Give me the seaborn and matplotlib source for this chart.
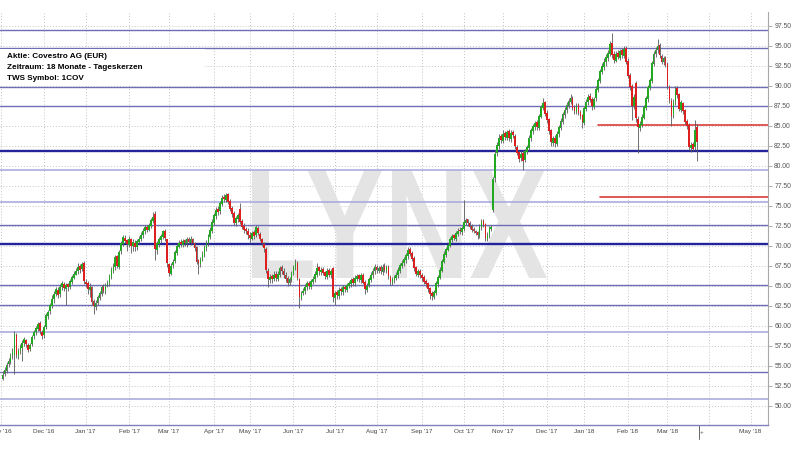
import numpy as np
import pandas as pd
import matplotlib
matplotlib.use("Agg")
import matplotlib.pyplot as plt
import seaborn as sns
from matplotlib.textpath import TextPath
from matplotlib.patches import PathPatch, Rectangle
from matplotlib.font_manager import FontProperties
from matplotlib.transforms import Affine2D, blended_transform_factory

# ---------------- data (daily candles, Covestro AG, EUR) ----------------
open_ = [
    53.4, 54.0, 54.4, 55.2, 55.5, 56.3, 56.4, 58.8, 56.2, 56.9,
    57.2, 57.8, 58.2, 57.6, 57.1, 57.7, 58.7, 59.2, 59.6, 60.4,
    59.2, 58.8, 59.9, 61.2, 61.8, 62.5, 63.3, 64.0, 64.5, 64.0,
    64.8, 65.2, 64.6, 65.2, 64.9, 65.5, 66.0, 66.4, 66.8, 67.5,
    67.1, 67.8, 65.5, 65.3, 64.5, 64.8, 63.1, 62.4, 62.9, 63.5,
    64.0, 64.9, 64.3, 65.1, 65.3, 66.1, 66.9, 67.3, 68.7, 67.4,
    69.3, 70.2, 71.0, 70.7, 70.1, 70.8, 70.0, 70.4, 69.9, 70.5,
    70.9, 71.3, 71.8, 72.4, 72.0, 72.5, 73.1, 74.0, 69.5, 70.2,
    70.7, 71.1, 71.9, 70.8, 67.7, 66.5, 67.6, 68.1, 69.1, 69.9,
    70.5, 70.1, 70.7, 70.2, 70.9, 70.4, 70.8, 70.3, 69.8, 68.2,
    67.7, 68.4, 68.9, 69.7, 70.3, 71.1, 71.9, 72.9, 73.7, 74.6,
    74.3, 75.2, 76.1, 75.7, 76.4, 75.6, 74.7, 74.1, 72.8, 73.3,
    74.6, 73.1, 72.5, 72.1, 71.9, 71.4, 70.9, 71.7, 71.3, 72.2,
    71.5, 70.8, 70.2, 69.6, 66.9, 65.7, 66.2, 65.9, 66.5, 65.9,
    66.4, 67.3, 66.9, 66.4, 66.0, 65.3, 65.7, 66.5, 67.2, 67.8,
    65.9, 63.5, 64.1, 64.3, 64.8, 65.4, 64.9, 65.5, 65.8, 66.4,
    67.3, 66.7, 67.1, 66.7, 66.1, 67.0, 66.3, 67.2, 63.5, 64.2,
    63.7, 64.6, 64.2, 64.9, 64.5, 65.0, 65.2, 65.8, 65.3, 65.9,
    66.3, 65.7, 66.4, 65.5, 64.5, 65.1, 65.7, 66.3, 66.8, 67.4,
    66.9, 67.3, 66.7, 67.5, 66.9, 67.4, 66.1, 65.4, 65.7, 66.0,
    66.3, 66.9, 67.5, 67.8, 68.2, 68.7, 69.6, 69.1, 68.5, 67.3,
    66.4, 66.9, 66.4, 66.1, 65.6, 65.3, 64.7, 64.1, 63.6, 64.1,
    65.2, 66.0, 66.9, 68.0, 68.9, 69.5, 70.0, 70.7, 71.3, 70.9,
    71.5, 72.0, 71.7, 72.1, 72.9, 73.3, 72.9, 72.5, 72.1, 71.8,
    71.7, 71.2, 72.3, 73.1, 72.7, 70.9, 71.3, 72.1, 74.4, 78.4,
    81.6, 82.5, 83.7, 83.1, 84.1, 83.5, 84.3, 83.3, 84.2, 83.7,
    82.3, 81.7, 80.9, 81.6, 80.7, 81.7, 82.2, 83.4, 84.3, 84.8,
    85.4, 84.7, 86.1, 87.2, 87.9, 86.6, 85.8, 84.4, 82.8, 83.5,
    82.7, 83.9, 84.7, 85.5, 86.3, 86.9, 87.5, 88.0, 88.5, 87.3,
    86.7, 87.6, 86.7, 86.3, 85.3, 87.1, 87.9, 88.7, 88.3, 87.3,
    88.4, 89.5, 90.6, 91.7, 92.3, 92.9, 93.5, 94.0, 95.3, 93.9,
    93.1, 94.1, 93.5, 94.4, 93.7, 94.7, 93.1, 91.3, 89.9, 87.4,
    90.3, 85.8, 84.7, 85.1, 86.0, 87.2, 88.3, 89.7, 90.6, 92.7,
    93.9, 94.4, 95.1, 93.7, 92.9, 93.5, 92.7, 89.8, 88.1, 86.3,
    87.9, 89.7, 88.9, 87.0, 87.8, 86.9, 85.6, 85.1, 82.2, 82.7,
    82.3, 84.8,
]
high = [
    54.3, 54.9, 55.5, 56.0, 56.6, 57.2, 59.3, 59.1, 57.2, 57.7,
    58.2, 58.6, 58.4, 57.9, 57.9, 58.9, 59.5, 60.0, 60.5, 60.6,
    59.5, 60.1, 61.6, 62.0, 62.9, 63.8, 64.3, 64.9, 64.8, 65.2,
    65.6, 65.5, 65.4, 65.4, 65.9, 66.4, 66.8, 67.2, 67.8, 67.7,
    68.0, 68.1, 65.9, 65.6, 65.3, 65.0, 63.4, 63.2, 63.9, 64.4,
    65.1, 65.2, 65.3, 65.7, 66.5, 67.3, 67.8, 68.9, 68.9, 69.5,
    70.6, 71.4, 71.3, 70.9, 71.2, 71.0, 70.8, 70.7, 70.9, 71.2,
    71.7, 72.2, 72.6, 72.6, 72.9, 73.5, 74.2, 74.3, 70.6, 71.1,
    71.5, 72.0, 72.1, 70.9, 67.9, 67.8, 68.3, 69.5, 70.3, 70.7,
    70.8, 70.9, 70.9, 71.1, 71.1, 71.2, 71.0, 70.5, 70.0, 68.4,
    68.6, 69.3, 70.1, 70.7, 71.5, 72.3, 73.3, 74.1, 74.8, 74.9,
    75.6, 76.3, 76.5, 76.6, 76.6, 75.8, 74.9, 74.3, 73.7, 74.1,
    75.3, 73.4, 72.8, 72.4, 72.2, 71.7, 71.9, 72.0, 72.6, 72.5,
    71.7, 71.0, 70.5, 69.8, 67.2, 66.5, 66.5, 66.8, 66.8, 66.9,
    67.5, 67.6, 67.2, 66.7, 66.2, 66.1, 66.9, 67.6, 68.3, 68.1,
    66.0, 64.3, 64.7, 65.2, 65.6, 65.6, 65.9, 66.2, 66.8, 67.8,
    67.5, 67.3, 67.3, 66.9, 67.2, 67.2, 67.1, 67.4, 64.4, 64.5,
    64.8, 64.9, 65.1, 65.1, 65.4, 65.6, 66.0, 66.1, 66.3, 66.5,
    66.5, 66.6, 66.6, 65.7, 65.3, 66.1, 66.7, 67.2, 67.7, 67.6,
    67.5, 67.6, 67.7, 67.8, 67.6, 67.6, 66.3, 66.1, 66.4, 66.7,
    67.3, 67.9, 68.2, 68.6, 69.1, 69.9, 69.9, 69.3, 68.7, 67.5,
    67.1, 67.1, 66.6, 66.3, 65.9, 65.5, 64.9, 64.4, 64.5, 65.6,
    66.4, 67.3, 68.4, 69.3, 69.9, 70.4, 71.1, 71.5, 71.5, 71.9,
    72.2, 72.3, 72.5, 75.7, 73.5, 73.4, 73.1, 72.7, 72.3, 72.0,
    71.9, 72.7, 73.3, 73.4, 72.9, 71.7, 72.5, 72.6, 78.6, 81.9,
    83.0, 83.9, 84.0, 84.4, 84.3, 84.5, 84.6, 84.4, 84.5, 83.9,
    82.6, 81.9, 81.8, 81.9, 82.1, 82.6, 83.8, 84.7, 85.2, 85.6,
    85.7, 86.5, 87.6, 88.5, 88.1, 86.9, 86.0, 84.6, 83.7, 83.8,
    84.3, 85.1, 85.9, 86.7, 87.3, 87.9, 88.4, 88.9, 88.7, 87.6,
    87.8, 87.8, 86.9, 86.5, 87.5, 88.3, 89.0, 89.1, 88.6, 88.6,
    89.9, 91.0, 92.1, 92.8, 93.4, 93.9, 94.5, 95.6, 96.6, 94.3,
    94.3, 94.4, 94.6, 94.7, 94.9, 94.9, 93.4, 91.6, 90.2, 89.0,
    90.6, 86.2, 85.6, 86.4, 87.6, 88.7, 90.1, 91.0, 93.1, 94.3,
    94.8, 95.8, 95.3, 94.0, 93.7, 93.7, 92.9, 90.1, 88.4, 88.3,
    89.9, 90.0, 89.1, 88.2, 88.0, 87.1, 85.8, 85.3, 83.0, 83.0,
    85.7, 85.2,
]
low = [
    53.2, 53.7, 54.1, 54.9, 55.2, 55.9, 54.0, 56.0, 55.8, 56.5,
    55.6, 57.5, 57.4, 56.7, 56.8, 57.5, 58.4, 58.9, 59.4, 59.0,
    58.3, 58.5, 59.6, 60.8, 61.5, 62.2, 62.9, 63.7, 63.5, 63.6,
    64.5, 64.3, 62.6, 64.4, 64.6, 65.2, 65.9, 66.3, 66.5, 66.6,
    66.8, 65.2, 64.8, 64.0, 63.6, 62.6, 61.5, 62.0, 62.6, 63.2,
    63.7, 64.1, 64.0, 64.9, 65.0, 65.8, 66.6, 67.0, 67.2, 67.1,
    69.0, 70.0, 70.3, 69.3, 69.8, 69.1, 69.4, 69.3, 69.5, 70.2,
    70.6, 71.0, 71.5, 71.7, 71.8, 72.2, 72.8, 68.2, 69.0, 69.8,
    70.4, 70.8, 70.6, 67.3, 66.2, 66.3, 67.2, 67.9, 68.8, 69.7,
    69.9, 69.8, 70.0, 69.9, 70.2, 70.1, 70.2, 69.3, 67.7, 66.5,
    67.3, 68.1, 68.6, 69.4, 70.0, 70.8, 71.6, 72.6, 73.4, 73.8,
    74.0, 75.0, 75.4, 75.4, 75.2, 74.3, 73.6, 72.6, 72.5, 73.0,
    72.7, 72.1, 71.6, 71.5, 70.9, 70.3, 70.7, 70.8, 71.1, 71.3,
    70.6, 70.0, 69.2, 66.6, 64.8, 65.4, 65.3, 65.6, 65.6, 65.6,
    66.1, 66.5, 66.0, 65.5, 65.0, 65.1, 65.5, 66.3, 67.0, 65.7,
    62.2, 63.2, 63.8, 64.0, 64.5, 64.6, 64.6, 65.2, 65.5, 66.1,
    66.4, 66.4, 66.3, 65.8, 65.9, 66.1, 66.0, 63.0, 62.6, 63.3,
    63.4, 63.9, 63.9, 64.2, 64.2, 64.7, 64.9, 65.0, 65.0, 65.6,
    65.5, 65.4, 65.2, 64.0, 64.2, 64.8, 65.5, 66.0, 66.5, 66.6,
    66.6, 66.5, 66.4, 66.7, 66.6, 65.9, 65.1, 65.1, 65.4, 65.7,
    66.0, 66.6, 67.2, 67.5, 67.9, 68.4, 68.7, 68.1, 66.9, 66.2,
    66.1, 66.0, 65.6, 65.2, 64.8, 64.2, 63.4, 63.2, 63.3, 63.9,
    64.9, 65.8, 66.7, 67.8, 68.6, 69.3, 69.8, 70.5, 70.7, 70.6,
    71.2, 71.5, 71.4, 71.9, 72.6, 72.5, 72.1, 71.7, 71.6, 71.3,
    70.9, 71.0, 72.0, 72.3, 70.6, 70.6, 71.0, 71.9, 74.2, 78.0,
    81.2, 82.1, 82.8, 82.8, 83.2, 83.2, 83.1, 83.0, 83.4, 82.1,
    81.3, 80.5, 80.6, 79.5, 80.4, 81.4, 82.0, 83.1, 83.9, 84.5,
    84.4, 84.5, 85.9, 86.9, 86.2, 85.3, 84.0, 82.5, 82.4, 82.3,
    82.4, 83.6, 84.4, 85.2, 86.0, 86.6, 87.2, 87.7, 86.9, 86.4,
    86.4, 86.3, 85.8, 84.7, 85.1, 86.8, 87.6, 87.9, 86.9, 87.1,
    88.1, 89.2, 90.3, 91.4, 92.0, 92.5, 93.1, 93.7, 93.5, 92.8,
    92.9, 93.3, 93.2, 93.5, 93.5, 92.7, 90.9, 89.5, 85.7, 87.1,
    85.5, 81.6, 84.3, 84.8, 85.8, 86.9, 88.0, 89.4, 90.3, 92.4,
    93.6, 94.1, 93.5, 92.7, 92.6, 92.3, 89.6, 87.8, 84.9, 86.0,
    87.6, 88.5, 86.8, 86.7, 86.5, 85.2, 84.6, 82.0, 81.7, 81.8,
    82.0, 80.6,
]
close = [
    53.9, 54.5, 55.1, 55.6, 56.2, 56.8, 59.0, 56.4, 56.8, 57.3,
    57.9, 58.3, 57.7, 57.0, 57.6, 58.6, 59.2, 59.7, 60.2, 59.3,
    58.7, 59.8, 61.4, 61.7, 62.6, 63.4, 64.0, 64.6, 63.9, 64.9,
    65.3, 64.7, 65.1, 64.8, 65.6, 66.1, 66.5, 66.9, 67.4, 67.0,
    67.7, 65.6, 65.2, 64.6, 64.9, 63.0, 62.5, 62.8, 63.6, 64.1,
    64.8, 64.4, 65.0, 65.4, 66.2, 67.0, 67.4, 68.6, 67.5, 69.2,
    70.3, 71.1, 70.6, 70.2, 70.9, 70.0, 70.5, 69.8, 70.6, 70.9,
    71.4, 71.9, 72.3, 72.0, 72.6, 73.2, 73.6, 69.6, 70.3, 70.8,
    71.2, 71.8, 71.0, 67.8, 66.6, 67.5, 68.0, 69.2, 70.0, 70.4,
    70.2, 70.6, 70.3, 70.8, 70.5, 70.9, 70.4, 69.7, 68.0, 67.8,
    68.3, 69.0, 69.8, 70.4, 71.2, 72.0, 73.0, 73.8, 74.5, 74.2,
    75.3, 76.0, 75.8, 76.3, 75.5, 74.6, 74.0, 72.9, 73.4, 73.8,
    73.0, 72.4, 72.0, 71.9, 71.3, 71.0, 71.6, 71.2, 72.3, 71.6,
    70.9, 70.3, 69.7, 67.0, 65.8, 66.1, 65.8, 66.4, 66.0, 66.5,
    67.2, 66.8, 66.3, 65.9, 65.4, 65.8, 66.6, 67.3, 67.9, 66.0,
    63.6, 64.0, 64.4, 64.9, 65.3, 65.0, 65.6, 65.9, 66.5, 67.2,
    66.8, 67.0, 66.6, 66.2, 66.9, 66.4, 66.8, 63.6, 64.1, 63.8,
    64.5, 64.3, 64.8, 64.6, 65.1, 65.3, 65.7, 65.4, 66.0, 66.2,
    65.8, 66.3, 65.4, 64.6, 65.0, 65.8, 66.4, 66.9, 67.3, 67.0,
    67.2, 66.8, 67.4, 67.0, 67.3, 66.2, 65.5, 65.8, 66.1, 66.4,
    67.0, 67.6, 67.9, 68.3, 68.8, 69.5, 69.0, 68.4, 67.2, 66.5,
    66.8, 66.3, 66.0, 65.5, 65.2, 64.6, 64.0, 63.7, 64.2, 65.3,
    66.1, 67.0, 68.1, 69.0, 69.6, 70.1, 70.8, 71.2, 71.0, 71.6,
    71.9, 71.8, 72.2, 73.0, 73.2, 72.8, 72.4, 72.0, 71.9, 71.6,
    71.3, 72.4, 73.0, 72.6, 71.0, 71.4, 72.2, 72.3, 78.3, 81.5,
    82.6, 83.5, 83.2, 84.0, 83.6, 84.2, 83.4, 84.1, 83.8, 82.4,
    81.6, 80.8, 81.5, 80.6, 81.8, 82.3, 83.5, 84.4, 84.9, 85.3,
    84.8, 86.2, 87.3, 87.8, 86.5, 85.7, 84.3, 82.9, 83.4, 82.8,
    84.0, 84.8, 85.6, 86.4, 87.0, 87.6, 88.1, 88.4, 87.2, 86.8,
    87.5, 86.6, 86.2, 85.4, 87.2, 88.0, 88.6, 88.2, 87.4, 88.3,
    89.6, 90.7, 91.8, 92.4, 93.0, 93.6, 94.1, 95.2, 93.8, 93.2,
    94.0, 93.6, 94.3, 93.8, 94.6, 93.0, 91.2, 89.8, 87.5, 88.6,
    85.9, 84.8, 85.2, 86.1, 87.3, 88.4, 89.8, 90.7, 92.8, 94.0,
    94.5, 95.0, 93.8, 93.0, 93.4, 92.6, 89.9, 88.2, 86.2, 88.0,
    89.6, 88.8, 87.1, 87.9, 86.8, 85.5, 85.0, 82.3, 82.6, 82.1,
    84.4, 83.0,
]

# trading calendar (Xetra closing days up to the last candle)
holidays = ["2016-12-26", "2017-04-14", "2017-04-17", "2017-05-01", "2017-06-05",
            "2017-10-03", "2017-10-31", "2017-12-25", "2017-12-26", "2018-01-01",
            "2018-03-30"]
first_candle_day = 1          # candles start on 2 Nov 2016 (day 0 = 1 Nov 2016)
now_marker_day = 353

month_labels = ["Nov '16", "Dec '16", "Jan '17", "Feb '17", "Mar '17", "Apr '17",
                "May '17", "Jun '17", "Jul '17", "Aug '17", "Sep '17", "Oct '17",
                "Nov '17", "Dec '17", "Jan '18", "Feb '18", "Mar '18", "", "May '18"]
y_ticks = [50.0, 52.5, 55.0, 57.5, 60.0, 62.5, 65.0, 67.5, 70.0, 72.5, 75.0,
           77.5, 80.0, 82.5, 85.0, 87.5, 90.0, 92.5, 95.0, 97.5]

level_values = [96.9, 94.7, 89.8, 87.5, 81.8, 79.5, 75.4, 72.6, 70.2, 65.1,
                62.6, 59.2, 54.2, 50.9]
level_kinds = ["mid", "mid", "mid", "mid", "strong", "light", "light", "mid",
               "strong", "mid", "mid", "light", "mid", "light"]
red_levels = [85.1, 76.05]
red_start_day = [302, 303]

header_lines = ["Aktie: Covestro AG (EUR)", "Zeitraum: 18 Monate - Tageskerzen",
                "TWS Symbol: 1COV"]
watermark = "LYNX"

# ---------------- figure ----------------
sns.set_theme(style="white")
plt.rcParams["font.family"] = ["Liberation Sans", "DejaVu Sans"]

W, H = 800, 450
fig = plt.figure(figsize=(8, 4.5), dpi=100)
fig.patch.set_facecolor("white")
ax = fig.add_axes([0, 25 / H, 768 / W, 413 / H])
ax.set_facecolor("white")

# calendar -> month tick positions
cbd = pd.offsets.CustomBusinessDay(holidays=holidays)
days = pd.date_range("2016-11-01", "2018-03-31", freq=cbd).append(
    pd.bdate_range("2018-04-01", "2018-05-31"))
pos = pd.Series(np.arange(len(days)), index=days)
month_first = pos.groupby([days.year, days.month]).first().values[:len(month_labels)]

x_left, x_right = -0.3, 387.8
ax.set_xlim(x_left, x_right)
ax.set_ylim(47.6, 99.2)

ax.set_xticks(month_first)
ax.set_xticklabels(month_labels)
ax.set_yticks(y_ticks)
ax.set_yticklabels([f"{v:.2f}" for v in y_ticks])
ax.yaxis.tick_right()
ax.grid(True, linestyle=(0, (1, 2)), color="#c4c4c4", linewidth=0.7)
ax.set_axisbelow(True)
ax.tick_params(axis="y", which="both", direction="out", length=3, width=0.6,
               color="#a0a0a0", labelsize=4.9, labelcolor="#555555", pad=1.5,
               right=True, left=False)
ax.tick_params(axis="x", which="both", length=0, labelsize=4.6,
               labelcolor="#444444", pad=3)
for side in ["top", "left"]:
    ax.spines[side].set_visible(False)
ax.spines["right"].set_color("#a8a8a8")
ax.spines["right"].set_linewidth(0.8)
ax.spines["bottom"].set_color("#8080bb")
ax.spines["bottom"].set_linewidth(1.0)

# watermark
tp = TextPath((0, 0), watermark, size=100,
              prop=FontProperties(family="Liberation Sans", weight="bold"))
bb = tp.get_extents()
px0, px1, py_top, py_bot = 252, 547, 170, 278
sx = (px1 - px0) / bb.width / W
sy = (py_bot - py_top) / bb.height / H
trans = (Affine2D().translate(-bb.x0, -bb.y0).scale(sx, sy)
         .translate(px0 / W, (H - py_bot) / H) + fig.transFigure)
wm = PathPatch(tp, transform=trans, facecolor="#e4e4e4", edgecolor="none",
               zorder=0.8, clip_on=False)
ax.add_artist(wm)

# horizontal level lines
level_style = {"mid": ("#6e6eb8", 1.0), "strong": ("#24249a", 1.7),
               "light": ("#ababdd", 1.2)}
for v, k in zip(level_values, level_kinds):
    c, lw = level_style[k]
    ax.axhline(v, color=c, lw=lw, zorder=1.5)

# red resistance/support lines (seaborn)
red_df = pd.DataFrame({
    "day": [d for d in red_start_day for _ in (0, 1)],
    "price": [v for v in red_levels for _ in (0, 1)],
    "line": [n for n in range(len(red_levels)) for _ in (0, 1)],
})
red_df.loc[1::2, "day"] = x_right
sns.lineplot(data=red_df, x="day", y="price", units="line", estimator=None,
             color="#dd3b3b", linewidth=1.2, ax=ax, zorder=1.6, legend=False)
ax.set_xlabel("")
ax.set_ylabel("")

# candles
o = np.array(open_)
c = np.array(close)
hi = np.array(high)
lo = np.array(low)
x = np.arange(first_candle_day, first_candle_day + len(c))
up = c >= o
ax.vlines(x, lo, hi, color="#5a5a5a", linewidth=0.6, zorder=2)
body_bottom = np.minimum(o, c)
body_height = np.maximum(np.abs(c - o), 0.15)
ax.bar(x, body_height, bottom=body_bottom, width=0.88,
       color=np.where(up, "#22a822", "#dc1f1f"), linewidth=0, zorder=3)

# "now" marker below the axis
btrans = blended_transform_factory(ax.transData, ax.transAxes)
ax.plot([now_marker_day, now_marker_day], [0, -0.035], color="#666666", lw=0.7,
        transform=btrans, clip_on=False)
ax.text(now_marker_day + 1.3, -0.018, "+", transform=btrans, fontsize=4.5,
        color="#555555", ha="center", va="center", clip_on=False)

# header box
fig.add_artist(Rectangle((0, (H - 86) / H), 205 / W, 37 / H, transform=fig.transFigure,
                         facecolor="white", edgecolor="none", zorder=5))
for k, t in enumerate(header_lines):
    fig.text(7 / W, (H - (57 + 10.5 * k)) / H, t, fontsize=5.9, fontweight="bold",
             color="#000000", ha="left", va="center", zorder=6)

fig.savefig("out.png", dpi=100, facecolor="white")
